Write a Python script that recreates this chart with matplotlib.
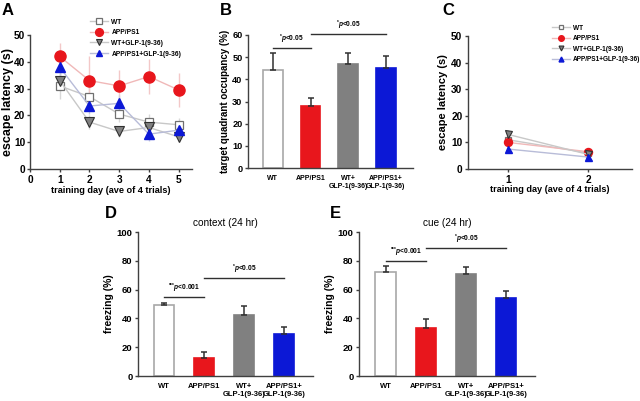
import matplotlib
matplotlib.use("Agg")
import matplotlib.pyplot as plt
import numpy as np

plt.rcParams['font.family'] = ['Liberation Sans', 'DejaVu Sans']
plt.rcParams['font.weight'] = 'bold'
plt.rcParams['axes.labelweight'] = 'bold'
plt.rcParams['mathtext.fontset'] = 'custom'
plt.rcParams['mathtext.it'] = 'Liberation Sans:italic:bold'
plt.rcParams['mathtext.rm'] = 'Liberation Sans:bold'

# ---------------- data ----------------
groups = ['WT', 'APP/PS1', 'WT+GLP-1(9-36)', 'APP/PS1+GLP-1(9-36)']
bar_labels = ['WT', 'APP/PS1', 'WT+\nGLP-1(9-36)', 'APP/PS1+\nGLP-1(9-36)']

days_a = [1, 2, 3, 4, 5]
a_wt = [31, 27, 20.5, 17.5, 16.5]
a_app = [42, 33, 31, 34.5, 29.5]
a_wtglp = [33, 17.5, 14, 15.5, 12]
a_appglp = [38, 23.5, 24.5, 13, 14.5]
a_wt_err = [5, 3.5, 3, 3, 2.5]
a_app_err = [5, 9, 6, 6.5, 6.5]
a_wtglp_err = [4, 2.5, 2, 2.5, 2]
a_appglp_err = [4, 3, 3, 2.5, 2.5]

days_c = [1, 2]
c_wt = [11, 6]
c_app = [10, 6.5]
c_wtglp = [13, 5.5]
c_appglp = [7.5, 4.5]
c_wt_err = [2, 1]
c_app_err = [2.5, 1]
c_wtglp_err = [1.5, 1]
c_appglp_err = [1.5, 1]

b_vals = [44, 28, 47, 45]
b_err = [8, 3.5, 5, 5.5]

d_vals = [49, 12.5, 42.5, 29.5]
d_err = [2, 4, 6, 4.5]

e_vals = [72, 33.5, 71, 54]
e_err = [4.5, 6, 5, 5]

sig_one = r'$^{*}\mathit{p}$<0.05'
sig_three = r'$^{{*}{*}{*}}\mathit{p}$<0.001'

bar_colors = ['white', '#e8161c', '#808080', '#0c18d6']
bar_edges = ['#a8a8a8', '#e8161c', '#808080', '#0c18d6']

SPINE = '#404040'
W, H = 640.0, 401.0

fig = plt.figure(figsize=(6.4, 4.01), dpi=100)


def axes_px(x0, x1, y_top, y_bot):
    return fig.add_axes([x0 / W, 1 - y_bot / H, (x1 - x0) / W, (y_bot - y_top) / H])


def style(ax, tsize):
    for s in ['top', 'right']:
        ax.spines[s].set_visible(False)
    for s in ['left', 'bottom']:
        ax.spines[s].set_color(SPINE)
        ax.spines[s].set_linewidth(1.0)
    ax.tick_params(axis='both', direction='out', length=2.5, width=1,
                   color=SPINE, labelsize=tsize, pad=1.5)
    for lab in ax.get_xticklabels() + ax.get_yticklabels():
        lab.set_fontweight('bold')


def line_panel(ax, days, series, xlim, ms_scale):
    handles = []
    for vals, err, mk, lc, ec in series:
        mk = dict(mk)
        mk['ms'] = mk['ms'] * ms_scale
        ax.errorbar(days, vals, yerr=err, fmt='none', ecolor=ec, elinewidth=1,
                    capsize=0, zorder=1)
        h, = ax.plot(days, vals, color=lc, lw=1, zorder=2, **mk)
        handles.append(h)
    ax.set_xlim(*xlim)
    ax.set_ylim(0, 50)
    ax.set_yticks([0, 10, 20, 30, 40, 50])
    return handles


def series_for(wt, wte, app, appe, wg, wge, ag, age):
    return [
        (wt, wte, dict(marker='s', mfc='white', mec='#707070', mew=0.9, ms=6.0), '#c8c8c8', '#d8d8d8'),
        (app, appe, dict(marker='o', mfc='#e8161c', mec='#e8161c', ms=8.0), '#f0b8b8', '#f3c8c8'),
        (wg, wge, dict(marker='v', mfc='#808080', mec='#303030', mew=0.8, ms=7.0), '#c8c8c8', '#d4d4d4'),
        (ag, age, dict(marker='^', mfc='#0c18d6', mec='#0c18d6', ms=7.0), '#b8bcd8', '#c8cce0'),
    ]


def make_legend(handles, left_px, top_px, fsize):
    leg = fig.legend(handles, groups, loc='upper left',
                     bbox_to_anchor=(left_px / W, 1 - top_px / H),
                     frameon=False, fontsize=fsize, handlelength=2.7, handletextpad=0.5,
                     labelspacing=0.55, borderaxespad=0.0, borderpad=0.0, markerscale=0.7)
    for t in leg.get_texts():
        t.set_fontweight('bold')
    return leg


# ---------------- Panel A ----------------
axA = axes_px(30, 192, 35, 169)
hA = line_panel(axA, days_a, series_for(a_wt, a_wt_err, a_app, a_app_err,
                                        a_wtglp, a_wtglp_err, a_appglp, a_appglp_err),
                (0, 5.45), 1.0)
axA.set_xticks([0, 1, 2, 3, 4, 5])
axA.set_xlabel('training day (ave of 4 trials)', fontsize=6.6, labelpad=1)
axA.set_ylabel('escape latency (s)', fontsize=9, labelpad=0)
style(axA, 7.3)
axA.tick_params(axis='y', pad=1)
make_legend(hA, 90, 18.5, 4.8)

# ---------------- Panel C ----------------
axC = axes_px(468, 632, 36, 169)
hC = line_panel(axC, days_c, series_for(c_wt, c_wt_err, c_app, c_app_err,
                                        c_wtglp, c_wtglp_err, c_appglp, c_appglp_err),
                (0.5, 2.55), 0.72)
axC.set_xticks([1, 2])
axC.set_xlabel('training day (ave of 4 trials)', fontsize=6.6, labelpad=0)
axC.set_ylabel('escape latency (s)', fontsize=8, labelpad=2)
style(axC, 7.3)
make_legend(hC, 552, 24.5, 4.7)


# ---------------- bar panels ----------------
def bars(ax, vals, err, ymax, yticks, ylabel, width, tsize, lsize, xsize):
    x = np.arange(len(vals))
    ax.bar(x, vals, width=width, color=bar_colors, edgecolor=bar_edges, linewidth=1.2, zorder=2)
    ax.errorbar(x, vals, yerr=[np.zeros(len(err)), err], fmt='none', ecolor='#303030',
                elinewidth=1.1, capsize=2.0, capthick=1.1, zorder=3)
    ax.set_xlim(-0.66, 3.72)
    ax.set_ylim(0, ymax)
    ax.set_yticks(yticks)
    ax.set_xticks(x)
    ax.set_xticklabels(bar_labels, fontsize=xsize, fontweight='bold', linespacing=1.15)
    ax.set_ylabel(ylabel, fontsize=lsize, labelpad=1.5)
    style(ax, tsize)
    ax.tick_params(axis='x', length=0, labelsize=xsize, pad=5)
    for lab in ax.get_xticklabels():
        lab.set_verticalalignment('top')


def sig(ax, x0, x1, y, text, ty, fs):
    ax.plot([x0, x1], [y, y], color='#303030', lw=1, clip_on=False)
    ax.text((x0 + x1) / 2, ty, text, ha='center', va='bottom', fontsize=fs, clip_on=False)


axB = axes_px(248, 413, 35, 168)
bars(axB, b_vals, b_err, 60, [0, 10, 20, 30, 40, 50, 60], 'target quadrant occupancy (%)',
     0.52, 6.6, 7, 5.0)
sig(axB, 0, 1, 54, sig_one, 55, 4.8)
sig(axB, 1, 3, 60.5, sig_one, 61.5, 4.8)

axD = axes_px(138, 313, 232, 376)
bars(axD, d_vals, d_err, 100, [0, 20, 40, 60, 80, 100], 'freezing (%)', 0.5, 6.8, 7.5, 5.5)
sig(axD, 0, 1, 55, sig_three, 56.5, 4.8)
sig(axD, 1, 3, 68, sig_one, 69.5, 4.8)
axD.set_title('context (24 hr)', fontsize=7.2, fontweight='normal', pad=4)

axE = axes_px(359, 535, 232, 376)
bars(axE, e_vals, e_err, 100, [0, 20, 40, 60, 80, 100], 'freezing (%)', 0.5, 6.8, 7.5, 5.5)
sig(axE, 0, 1, 80, sig_three, 81.5, 4.8)
sig(axE, 1, 3, 89, sig_one, 90.5, 4.8)
axE.set_title('cue (24 hr)', fontsize=7.2, fontweight='normal', pad=4)

# panel letters
for lab, x, y in [('A', 2, 15), ('B', 220, 15), ('C', 442, 15),
                  ('D', 105, 218), ('E', 330, 218)]:
    fig.text(x / W, 1 - y / H, lab, fontsize=12, fontweight='bold', ha='left', va='baseline')

fig.savefig('out.png', dpi=100)
